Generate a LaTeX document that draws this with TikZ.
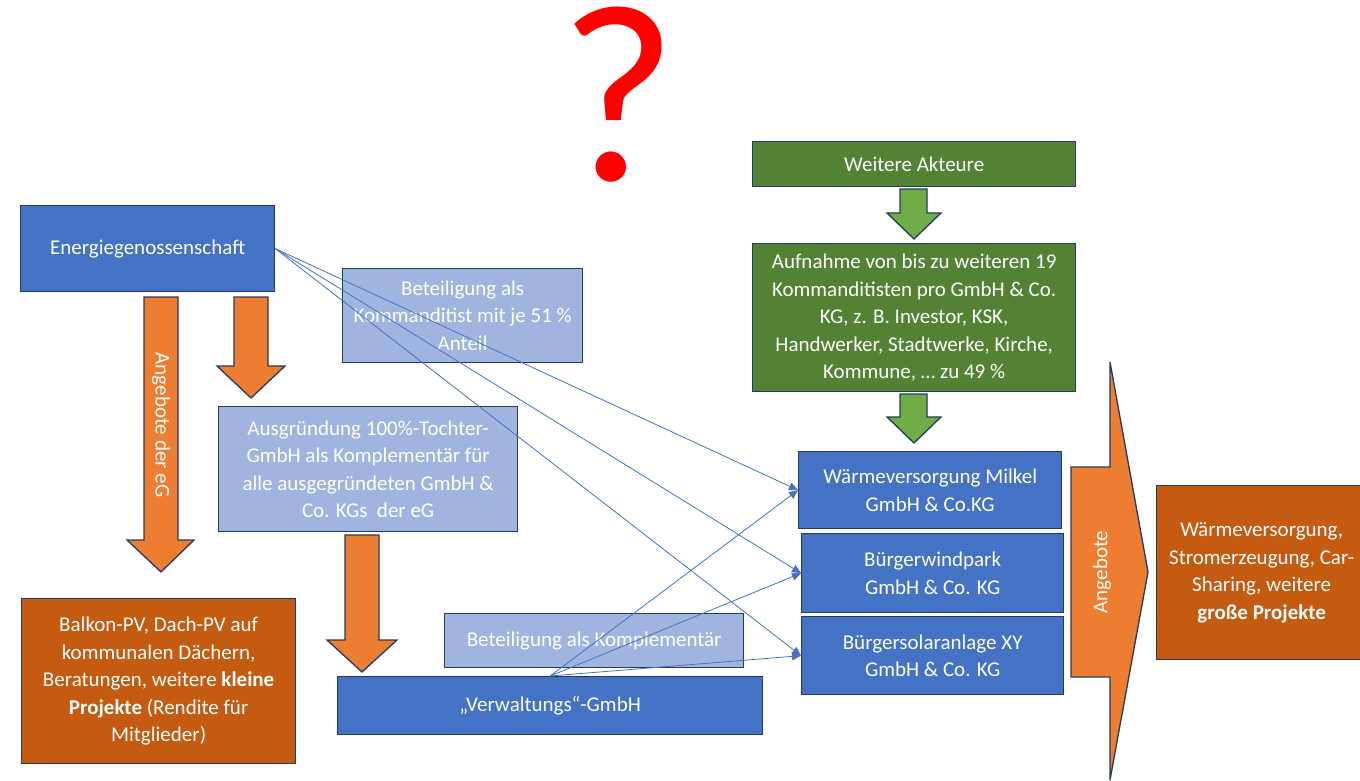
\documentclass[tikz,border=0pt]{standalone}
\usepackage{fontspec}
\setmainfont{Carlito}
\usetikzlibrary{arrows.meta}
\definecolor{cblue}{HTML}{4472C4}
\definecolor{clight}{HTML}{9FB5DF}
\definecolor{cgreen}{HTML}{548235}
\definecolor{cgreenarrow}{HTML}{70AD47}
\definecolor{corange}{HTML}{ED7D31}
\definecolor{cbrown}{HTML}{C55A11}
\definecolor{cborder}{HTML}{243A5E}
\definecolor{qred}{HTML}{FF0000}
\begin{document}
\begin{tikzpicture}[x=1pt,y=-1pt,
  txt/.style={font=\fontsize{21}{27.5}\selectfont, text=white},
  box/.style={txt, draw=cborder, line width=1.3pt, anchor=north west, align=center, inner sep=0pt},
  bluebox/.style={box, fill=cblue},
  lightbox/.style={box, fill=clight},
  greenbox/.style={box, fill=cgreen},
  brownbox/.style={box, fill=cbrown},
  blockarrow/.style={draw=cborder, line width=1.3pt, line join=miter},
  conn/.style={draw=cblue, line width=0.8pt, -{Triangle[length=9pt,width=8pt]}}]
\useasboundingbox (0,0) rectangle (1360,781);
\fill[white] (0,0) rectangle (1360,781);

% question mark
\node[font=\fontsize{254}{254}\selectfont, text=qred, inner sep=0pt, anchor=base, text height=170pt, text depth=0pt] (q) at (618,180) {?};

% block arrows (orange, left)
\path[blockarrow, fill=corange] (144,297) -- (178,297) -- (178,540) -- (194,540) -- (161,572) -- (127,540) -- (144,540) -- cycle;
\path[blockarrow, fill=corange] (234,297) -- (268,297) -- (268,366) -- (285,366) -- (251,398) -- (217,366) -- (234,366) -- cycle;
\path[blockarrow, fill=corange] (345,535) -- (379,535) -- (379,640) -- (397,640) -- (362,672) -- (327,640) -- (345,640) -- cycle;
\node[txt, rotate=-90, inner sep=0pt] (aeg) at (161,425) {Angebote der eG};

% green arrows
\path[blockarrow, fill=cgreenarrow] (900,189) -- (927,189) -- (927,213) -- (941,213) -- (914,239) -- (887,213) -- (900,213) -- cycle;
\path[blockarrow, fill=cgreenarrow] (900,394) -- (927,394) -- (927,417) -- (941,417) -- (914,443) -- (887,417) -- (900,417) -- cycle;

% big orange arrow
\path[blockarrow, fill=corange] (1071,467) -- (1110,467) -- (1110,362) -- (1148,572) -- (1110,780) -- (1110,677) -- (1071,677) -- cycle;
\node[txt, rotate=90, inner sep=0pt] (ang) at (1102,572) {Angebote};

% boxes
\node[bluebox, minimum width=254, minimum height=86] (E) at (20,205) {Energiegenossenschaft};
\node[lightbox, minimum width=240, minimum height=94] (K) at (342,268) {Beteiligung als\\Kommanditist mit je 51 \%\\Anteil};
\node[lightbox, minimum width=299, minimum height=125] (A) at (218,406) {Ausgründung 100\%-Tochter-\\GmbH als Komplementär für\\alle ausgegründeten GmbH \&\\Co. KGs\ \ der eG};
\node[brownbox, minimum width=274, minimum height=165] (B) at (21,598) {Balkon-PV, Dach-PV auf\\kommunalen Dächern,\\Beratungen, weitere \textbf{kleine}\\\textbf{Projekte} (Rendite für\\Mitglieder)};
\node[lightbox, minimum width=299, minimum height=54] (KO) at (444,613) {Beteiligung als Komplementär};
\node[bluebox, minimum width=425, minimum height=58] (V) at (337,676) {„Verwaltungs“-GmbH};
\node[greenbox, minimum width=323, minimum height=45] (W) at (752,141) {Weitere Akteure};
\node[greenbox, minimum width=323, minimum height=148] (AU) at (752,243) {Aufnahme von bis zu weiteren 19\\Kommanditisten pro GmbH \& Co.\\KG, z. B. Investor, KSK,\\Handwerker, Stadtwerke, Kirche,\\Kommune, … zu 49 \%};
\node[bluebox, minimum width=263, minimum height=77] (M) at (798,451) {Wärmeversorgung Milkel\\GmbH \& Co.KG};
\node[bluebox, minimum width=262, minimum height=79] (WP) at (801,533) {Bürgerwindpark\\GmbH \& Co. KG};
\node[bluebox, minimum width=262, minimum height=78] (S) at (801,616) {Bürgersolaranlage XY\\GmbH \& Co. KG};
\node[brownbox, minimum width=210, minimum height=174] (R) at (1156,485) {Wärmeversorgung,\\Stromerzeugung, Car-\\Sharing, weitere\\\textbf{große Projekte}};

% connectors
\draw[conn] (E.east) -- (M.west);
\draw[conn] (E.east) -- (WP.west);
\draw[conn] (E.east) -- (S.west);
\draw[conn] (V.north) -- (M.west);
\draw[conn] (V.north) -- (WP.west);
\draw[conn] (V.north) -- (S.west);
\end{tikzpicture}
\end{document}
